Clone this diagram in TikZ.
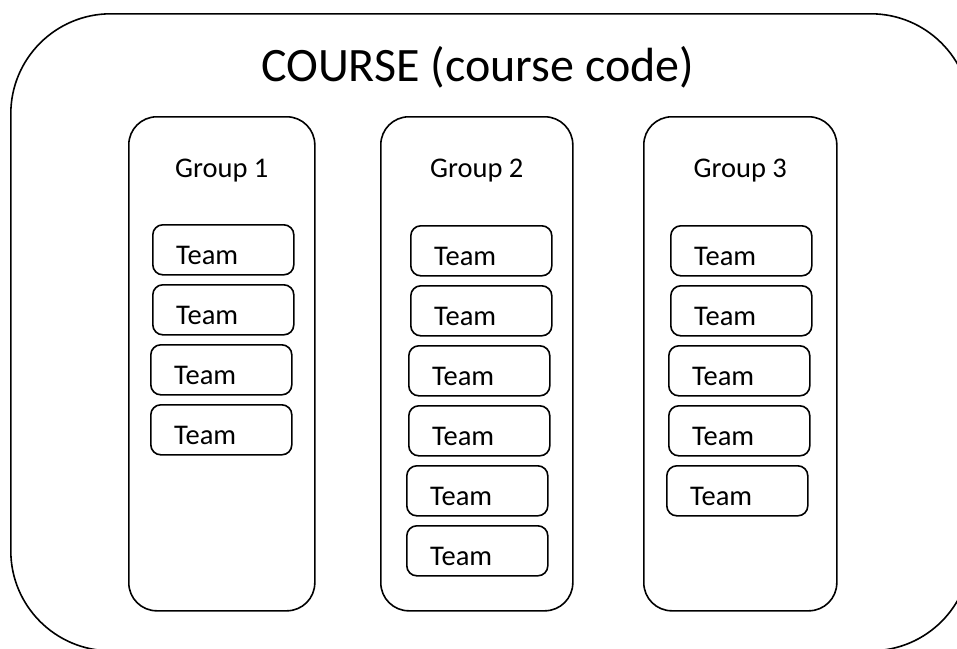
\documentclass[tikz,border=0pt]{standalone}
\usepackage{fontspec}
\setmainfont{Carlito}
\usetikzlibrary{calc}

\tikzset{
  outline/.style={draw=black, line width=1.6pt},
  coursebox/.style={outline, rounded corners=100pt, inner sep=0pt, anchor=north west,
    minimum width=960pt, minimum height=637pt},
  groupbox/.style={outline, rounded corners=28pt, inner sep=0pt, anchor=north west,
    minimum height=494pt},
  teambox/.style={outline, rounded corners=10pt, inner sep=0pt, anchor=north west,
    minimum width=141pt, minimum height=50pt},
  teamtext/.style={anchor=base west, inner sep=0pt, font=\fontsize{28.5}{34}\selectfont},
  grouptext/.style={anchor=base, inner sep=0pt, font=\fontsize{28.5}{34}\selectfont},
  titletext/.style={anchor=base west, inner sep=0pt, font=\fontsize{48}{58}\selectfont},
}

% place a team box at its top-left corner, with its label
\newcommand{\teamat}[3]{%
  \node[teambox] (#1) at (#2,#3) {};
  \node[teamtext] (#1-label) at ($(#1.south west)+(24,-11)$) {Team};
}

\begin{document}
\begin{tikzpicture}[x=1pt, y=-1pt]
  \useasboundingbox (0,0) rectangle (957,648);
  \clip (0,0) rectangle (957,648);

  % course frame, partly running off the page
  \node[coursebox] (course) at (10,13) {};
  \node[titletext] (title) at (261,81) {COURSE (course code)};

  % groups
  \node[groupbox, minimum width=186pt] (g1) at (128,116) {};
  \node[groupbox, minimum width=192pt] (g2) at (380,116) {};
  \node[groupbox, minimum width=193pt] (g3) at (643,116) {};
  \node[grouptext] (g1-label) at ($(g1.north)+(0,61)$) {Group 1};
  \node[grouptext] (g2-label) at ($(g2.north)+(0,61)$) {Group 2};
  \node[grouptext] (g3-label) at ($(g3.north)+(0,61)$) {Group 3};

  % teams of group 1
  \teamat{t11}{152}{224}
  \teamat{t12}{152}{284}
  \teamat{t13}{150}{344}
  \teamat{t14}{150}{404}

  % teams of group 2
  \teamat{t21}{410}{225}
  \teamat{t22}{410}{285}
  \teamat{t23}{408}{345}
  \teamat{t24}{408}{405}
  \teamat{t25}{406}{465}
  \teamat{t26}{406}{525}

  % teams of group 3
  \teamat{t31}{670}{225}
  \teamat{t32}{670}{285}
  \teamat{t33}{668}{345}
  \teamat{t34}{668}{405}
  \teamat{t35}{666}{465}
\end{tikzpicture}
\end{document}
